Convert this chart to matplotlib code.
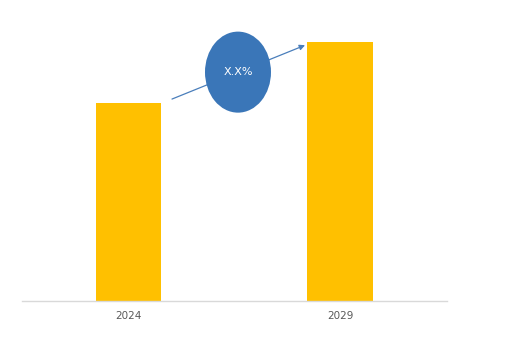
import matplotlib
matplotlib.use("Agg")
import matplotlib.pyplot as plt
from matplotlib.patches import Ellipse

years = ["2024", "2029"]
values = [76.5, 100]
cagr_label = "X.X%"

fig = plt.figure(figsize=(5.05, 3.52), dpi=100)
ax = fig.add_axes([22 / 505, 51 / 352, 425 / 505, 291 / 352])

x = range(len(years))
ax.bar(x, values, width=0.31, color="#FFC000", zorder=2)

ax.set_xlim(-0.504, 1.505)
ax.set_ylim(0, 112.4)
ax.set_xticks(list(x))
ax.set_xticklabels(years, fontsize=7.5, color="#595959")
ax.tick_params(axis="x", length=0, pad=7)
ax.set_yticks([])
for side in ["left", "right", "top"]:
    ax.spines[side].set_visible(False)
ax.spines["bottom"].set_color("#D9D9D9")
ax.spines["bottom"].set_linewidth(1)

# growth arrow from first bar to second
ax.annotate("", xy=(0.834, values[1] - 1.2), xytext=(0.205, values[0] + 1.5),
            arrowprops=dict(arrowstyle="-|>", color="#4A7EBB", lw=0.9,
                            mutation_scale=8, shrinkA=0, shrinkB=0),
            zorder=3)

ell = Ellipse((0.517, 88.4), width=0.312, height=31.3, facecolor="#3A76B8",
              edgecolor="none", zorder=4)
ax.add_patch(ell)
ax.text(0.517, 88.4, cagr_label, color="white", fontsize=8, ha="center",
        va="center", zorder=5)

fig.savefig("out.png", dpi=100)
